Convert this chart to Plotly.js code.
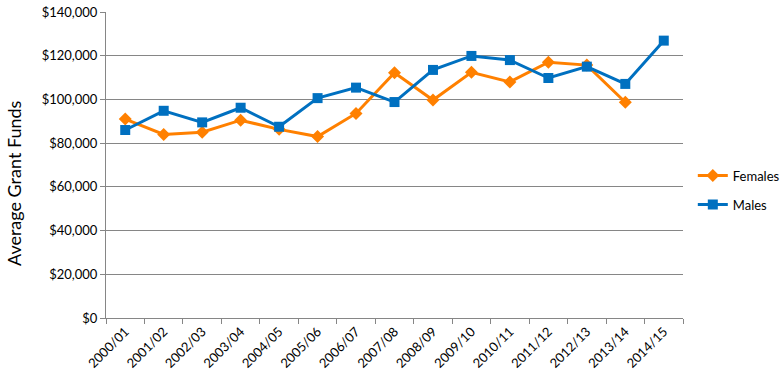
<!DOCTYPE html>
<html>
<head>
<meta charset="utf-8">
<script src="https://cdn.plot.ly/plotly-3.0.1.min.js"></script>
<style>html,body{margin:0;padding:0;background:#fff;}#chart{width:783px;height:384px;}</style>
</head>
<body>
<div id="chart"></div>
<script>
const years = ["2000/01","2001/02","2002/03","2003/04","2004/05","2005/06","2006/07","2007/08","2008/09","2009/10","2010/11","2011/12","2012/13","2013/14","2014/15"];
const females = [91000, 84000, 85000, 90500, 86300, 83000, 93600, 112200, 99700, 112400, 108000, 117000, 115700, 98700, null];
const males = [86000, 94800, 89500, 96200, 87500, 100600, 105400, 98800, 113500, 119900, 118000, 109800, 115000, 107100, 126900];
const yTicks = [0, 20000, 40000, 60000, 80000, 100000, 120000, 140000];
const yTickLabels = ["$0", "$20,000", "$40,000", "$60,000", "$80,000", "$100,000", "$120,000", "$140,000"];
const yTitle = "Average Grant Funds";

const font = "Lato, 'Open Sans', sans-serif";
const data = [
  {x: years, y: females, name: "Females", legendgroup: "f", type: "scatter", mode: "lines+markers",
   line: {color: "#FF8000", width: 3}, marker: {symbol: "diamond", size: 10, color: "#FF8000"}},
  {x: years, y: males, name: "Males", legendgroup: "m", type: "scatter", mode: "lines+markers",
   line: {color: "#0070C0", width: 3}, marker: {symbol: "square", size: 10, color: "#0070C0"}}
];
const layout = {
  width: 783, height: 384,
  margin: {l: 106, r: 100, t: 12, b: 66, autoexpand: false},
  paper_bgcolor: "#fff", plot_bgcolor: "#fff",
  font: {family: font, size: 13, color: "#000"},
  showlegend: true,
  legend: {x: 1.017, y: 0.418, xanchor: "left", yanchor: "middle", traceorder: "grouped", tracegroupgap: 9,
           itemwidth: 30, font: {family: font, size: 13, color: "#000"}},
  xaxis: {
    type: "category", tickangle: -45, showgrid: false,
    showline: true, linecolor: "#868686", linewidth: 1,
    ticks: "outside", tickson: "boundaries", ticklen: 5, tickcolor: "#868686",
    tickfont: {family: font, size: 13, color: "#000"},
    range: [-0.5, 14.5]
  },
  yaxis: {
    range: [0, 140000], tickvals: yTicks, ticktext: yTickLabels,
    showgrid: true, gridcolor: "#868686", gridwidth: 1,
    showline: true, linecolor: "#868686", linewidth: 1,
    ticks: "outside", ticklen: 5, tickcolor: "#868686",
    zeroline: false,
    tickfont: {family: font, size: 13, color: "#000"}
  },
  annotations: [{
    text: yTitle, textangle: -90, xref: "paper", yref: "paper",
    x: -0.1594, y: 0.441, xanchor: "center", yanchor: "middle", showarrow: false,
    font: {family: font, size: 18, color: "#000"}
  }]
};
Plotly.newPlot("chart", data, layout, {displayModeBar: false, staticPlot: true});
</script>
</body>
</html>
